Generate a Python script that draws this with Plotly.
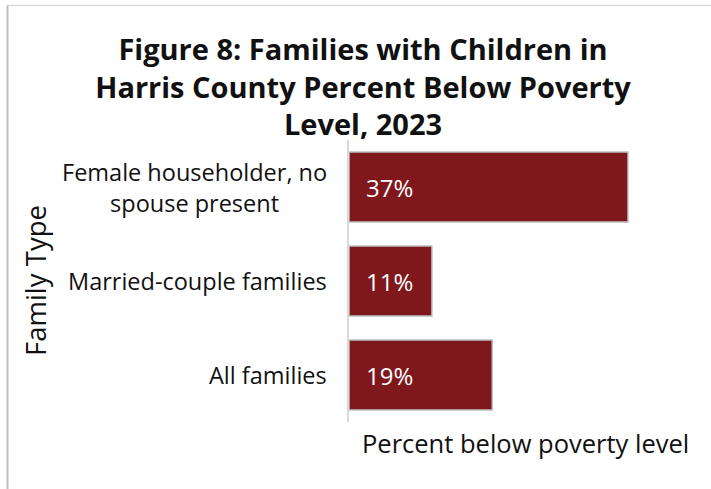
import plotly.graph_objects as go

categories = ["Female householder, no<br>spouse present", "Married-couple families", "All families"]
values = [37, 11, 19]
title_text = "Figure 8: Families with Children in<br>Harris County Percent Below Poverty<br>Level, 2023"
x_title = "Percent below poverty level"
y_title = "Family Type"

W, H = 711, 489
L, R, T, B = 349, 10, 140, 67
pw, ph = W - L - R, H - T - B
px_per_unit = 7.54
xmax = pw / px_per_unit

def px_x(p):
    return (p - L) / pw

def px_y(p):
    return (H - B - p) / ph

BAR = "#7F181D"
FONT = "Open Sans"

fig = go.Figure()
fig.add_trace(go.Bar(
    x=values, y=categories, orientation="h",
    marker=dict(color=BAR, line=dict(color="#BFBFBF", width=1.5)),
    hoverinfo="skip",
))

annotations = []
for c, v in zip(categories, values):
    annotations.append(dict(x=0, y=c, xref="x", yref="y", text=f"{v}%", showarrow=False,
                            xanchor="left", yanchor="middle", xshift=15,
                            font=dict(family=FONT, size=24, color="white")))
    annotations.append(dict(x=0, y=c, xref="paper", yref="y", text=c, showarrow=False,
                            xanchor="right", yanchor="middle", xshift=-20, align="center",
                            font=dict(family=FONT, size=23.5, color="#111111")))
annotations.append(dict(x=px_x(35), y=0.5, xref="paper", yref="paper", text=y_title,
                        showarrow=False, textangle=-90, xanchor="center", yanchor="middle",
                        font=dict(family=FONT, size=27.5, color="#111111")))
annotations.append(dict(x=px_x(525.5), y=px_y(443), xref="paper", yref="paper", text=x_title,
                        showarrow=False, xanchor="center", yanchor="middle",
                        font=dict(family=FONT, size=25.5, color="#111111")))

shapes = [
    dict(type="line", xref="paper", yref="paper", x0=px_x(7.5), x1=px_x(712), y0=px_y(5.5), y1=px_y(5.5),
         line=dict(color="#D9D9D9", width=1.5)),
    dict(type="line", xref="paper", yref="paper", x0=px_x(7.5), x1=px_x(7.5), y0=px_y(5.5), y1=px_y(490),
         line=dict(color="#BFBFBF", width=2)),
]

fig.update_layout(
    width=W, height=H,
    margin=dict(l=L, r=R, t=T, b=B, pad=0),
    paper_bgcolor="white", plot_bgcolor="white",
    showlegend=False,
    bargap=0.255,
    title=dict(text=title_text, x=363 / W, xanchor="center", y=1 - 60 / H, yanchor="top",
               yref="container", font=dict(family=FONT, size=29, color="#111111", weight="bold")),
    xaxis=dict(range=[0, xmax], showticklabels=False, showgrid=False, zeroline=False,
               showline=False, ticks="", fixedrange=True),
    yaxis=dict(autorange="reversed", showticklabels=False, showgrid=False, zeroline=False,
               showline=True, linecolor="#D9D9D9", linewidth=1.5, ticks="", fixedrange=True),
    annotations=annotations,
    shapes=shapes,
)

fig.write_html("out.html")
